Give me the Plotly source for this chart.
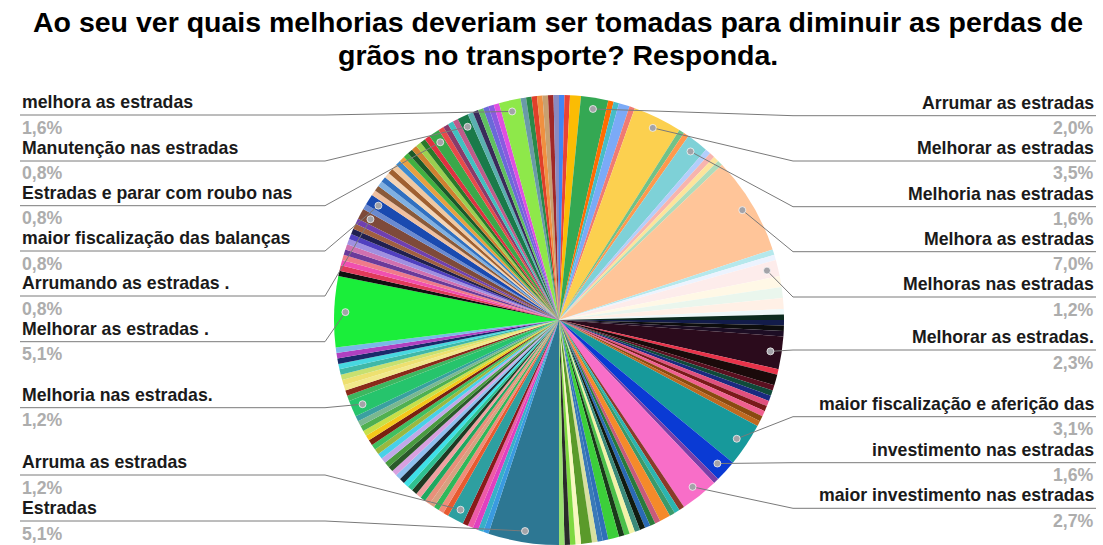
import math
import plotly.graph_objects as go

W, H = 1103, 545

titulo = [
    "Ao seu ver quais melhorias deveriam ser tomadas para diminuir as perdas de",
    "grãos no transporte? Responda.",
]

# Respostas na ordem em que aparecem (sentido horário a partir das 12h).
# "" = resposta sem rótulo no gráfico.
respostas = [
    "", "", "",
    "Arrumar as estradas",
    "", "", "", "",
    "Melhorar as estradas",
    "", "",
    "Melhoria nas estradas",
    "", "", "", "",
    "Melhora as estradas",
    "", "",
    "Melhoras nas estradas",
    "", "", "", "",
    "", "", "", "",
    "Melhorar as estradas.",
    "", "", "", "", "", "", "", "", "", "",
    "maior fiscalização e aferição das",
    "investimento nas estradas",
    "",
    "maior investimento nas estradas",
    "", "", "", "", "", "", "", "", "", "", "", "", "", "", "", "", "", "", "", "", "",
    "Estradas",
    "", "", "", "", "",
    "Arruma as estradas",
    "", "", "", "", "", "", "", "", "", "", "", "", "", "", "", "", "", "", "", "", "", "", "", "", "",
    "Melhoria nas estradas.",
    "", "", "", "", "", "", "", "", "", "",
    "Melhorar as estradas .",
    "", "", "", "", "", "", "", "", "", "", "",
    "Arrumando as estradas .",
    "",
    "maior fiscalização das balanças",
    "", "", "", "", "", "", "", "", "", "", "", "", "", "", "",
    "Estradas e parar com roubo nas",
    "", "", "", "",
    "Manutenção nas estradas",
    "", "", "", "", "", "",
    "melhora as estradas",
    "", "", "", "", "", "", "",
]

contagens = [
    1, 1, 2,
    5,
    1, 1, 2, 1,
    9,
    1, 1,
    4,
    1, 1, 1, 1,
    18,
    1, 1,
    3,
    2, 2, 2, 1,
    1, 1, 1, 1,
    6,
    1, 2, 1, 1, 1, 1, 1, 1, 1, 1,
    8,
    4,
    1,
    7,
    1, 1, 1, 2, 1, 1, 1, 1, 1, 1, 1, 1, 2, 1, 1, 1, 2, 1, 1, 1, 1,
    13,
    1, 1, 1, 1, 1,
    3,
    1, 1, 1, 1, 1, 1, 1, 1, 1, 1, 1, 1, 1, 1, 1, 1, 1, 1, 1, 1, 1, 1, 1, 1, 1,
    3,
    1, 1, 1, 1, 1, 1, 1, 1, 1, 1,
    13,
    1, 1, 1, 1, 1, 1, 1, 1, 1, 1, 1,
    2,
    1,
    2,
    1, 1, 1, 1, 1, 1, 1, 1, 1, 1, 1, 1, 1, 1, 1,
    2,
    1, 1, 1, 1,
    2,
    1, 1, 1, 1, 1, 1,
    4,
    1, 1, 1, 1, 1, 1, 1,
]

cores = [
    "#4285f4", "#ea4335", "#fbbc04",
    "#34a853",
    "#ff6d01", "#46bdc6", "#7baaf7", "#f07b72",
    "#fcd04f",
    "#71c287", "#ff994d",
    "#7ed1d7",
    "#b3cefb", "#f7b4ae", "#fde49b", "#aedcba",
    "#ffc599",
    "#b5e8ec", "#ecf3fe",
    "#fdeceb",
    "#fff8e6", "#eaf6ed", "#fff0e6", "#edf8f9",
    "#0b2a1e", "#131c4a", "#0d0d0d", "#1d0d24",
    "#2b0b1c",
    "#e8334a", "#1a0a0a", "#5a1020", "#0f4a3a", "#1a2a80", "#e0507e", "#7a1a1a", "#f06090", "#8a4a10", "#c06a20",
    "#17999b",
    "#0a3ad4",
    "#7a3fa8",
    "#f86ec8",
    "#8b3a2a", "#2bb5b0", "#3a9a6a", "#f58a2a", "#c85a7a", "#2a7a3a", "#2a6ab5", "#101a10", "#3a8a7a",
    "#f2f2a8", "#4cc04a", "#1a3a1a", "#3ccf3a", "#2f6fb8", "#3a7ab8", "#d8e0a0", "#5a9a2a", "#f8f8c0",
    "#7fd840", "#2a2a2a", "#9ae070",
    "#2d7793",
    "#3a9ae0", "#38b0c8", "#e040c0", "#ee5aa8", "#8a1a1a",
    "#2e9fa0",
    "#e85a30", "#f08c78", "#2fb85a", "#d8a080", "#e8907a", "#1fa860", "#f0a0a0", "#1f3a22", "#2fc090",
    "#3ee0e8", "#1a2a3a", "#8ec0f0", "#d8a0e0", "#2a5a2a", "#4a9a40", "#c0a8e8", "#48d0e8", "#9ab840",
    "#40c060", "#7a2010", "#f5c81a", "#c8e048", "#50b050", "#7ab890", "#3aa0a0",
    "#26c46c",
    "#3cb860", "#8a2a1a", "#f2e88a", "#eee070", "#c8e070", "#40b8a8", "#48d8e0", "#1a2a6a", "#b040c0", "#7ab8e8",
    "#1aee3a",
    "#101010", "#e03a5a", "#f050b0", "#f07a8a", "#6a3a9a", "#d070b0", "#a090e0", "#5040c0", "#202050",
    "#a06040", "#7040b0",
    "#7e4a3a",
    "#6a8ad0",
    "#1a4ab0",
    "#f0c0a0", "#8a5a3a", "#80b0e0", "#3070c0", "#f5d5b5", "#a06030", "#f0c8a0", "#3a8ad0", "#e8a040",
    "#40b040", "#1a5a2a", "#d08030", "#9ad050", "#2a7a2a", "#e03040",
    "#3aa84a",
    "#e84a4a", "#8a3a6a", "#40c0c0", "#c05a8a",
    "#1a7a4a",
    "#5ab0b0", "#3a2a5a", "#60c060", "#6a6ad8", "#8a5ae0", "#e050e0",
    "#8ee84a",
    "#6a9aa8", "#2a8a4a", "#e0402a", "#f09040", "#c8a070", "#a02828", "#8a8ac0",
]

# Geometria da pizza (em pixels)
CX, R = 559, 225
CY = H - R
R_PONTO = 0.95 * R

# Posições verticais (linha de sublinhado) dos rótulos, de cima para baixo
Y_DIREITA = [115.7, 161, 206.7, 251.7, 297, 350, 416.7, 462.7, 508.3]
Y_ESQUERDA = [115, 161, 205.7, 251, 296, 341.7, 407.7, 475, 521]
X_ESQ_TEXTO, X_ESQ_DOBRA = 20, 325
X_DIR_TEXTO, X_DIR_DOBRA = 1096, 793
Y_TITULO = [22, 55]

COR_LINHA = "#7a7a7a"
FONTE = "Liberation Sans, Arial, sans-serif"
TAM_ROTULO = 17.7


def px(x, y):
    return x / W, 1 - y / H


total = sum(contagens)
ids = [f"r{i:03d}" for i in range(len(contagens))]

fig = go.Figure(go.Pie(
    labels=ids,
    values=contagens,
    customdata=respostas,
    hovertemplate="%{customdata}<br>%{percent}<extra></extra>",
    marker=dict(colors=cores, line=dict(width=0)),
    sort=False,
    direction="clockwise",
    rotation=0,
    textinfo="none",
    showlegend=False,
    domain=dict(x=[(CX - R) / W, (CX + R) / W], y=[0, 2 * R / H]),
))

# Ângulo central de cada fatia rotulada
rotulados = []
acum = 0
for nome, v in zip(respostas, contagens):
    if nome:
        ang = 2 * math.pi * (acum + v / 2) / total
        rotulados.append((nome, v, ang))
    acum += v

direita = sorted([r for r in rotulados if r[2] <= math.pi], key=lambda r: r[2])
esquerda = sorted([r for r in rotulados if r[2] > math.pi], key=lambda r: -r[2])

shapes = []
annotations = []


def rotulo(nome, v, ang, y_ul, lado):
    xd = CX + R_PONTO * math.sin(ang)
    yd = CY - R_PONTO * math.cos(ang)
    if lado == "dir":
        xb, xt, anchor = X_DIR_DOBRA, X_DIR_TEXTO, "right"
    else:
        xb, xt, anchor = X_ESQ_DOBRA, X_ESQ_TEXTO, "left"
    p0, p1, p2 = px(xd, yd), px(xb, y_ul), px(xt, y_ul)
    shapes.append(dict(
        type="path", xref="paper", yref="paper",
        path=f"M {p0[0]},{p0[1]} L {p1[0]},{p1[1]} L {p2[0]},{p2[1]}",
        line=dict(color=COR_LINHA, width=1), layer="above",
    ))
    r = 3.5
    a, b = px(xd - r, yd - r), px(xd + r, yd + r)
    shapes.append(dict(
        type="circle", xref="paper", yref="paper",
        x0=a[0], y0=b[1], x1=b[0], y1=a[1],
        fillcolor="#a3a3a8", line=dict(color="rgba(255,255,255,0.7)", width=1), layer="above",
    ))
    pct = f"{100 * v / total:.1f}%".replace(".", ",")
    tx, ty = px(xt, y_ul - 13)
    annotations.append(dict(
        x=tx, y=ty, xref="paper", yref="paper", text=nome, showarrow=False,
        xanchor=anchor, yanchor="middle",
        font=dict(family=FONTE, size=TAM_ROTULO, color="#1a1a1a", weight="bold"),
    ))
    tx, ty = px(xt, y_ul + 12.5)
    annotations.append(dict(
        x=tx, y=ty, xref="paper", yref="paper", text=pct, showarrow=False,
        xanchor=anchor, yanchor="middle",
        font=dict(family=FONTE, size=TAM_ROTULO, color="#adadad", weight="bold"),
    ))


for (nome, v, ang), y in zip(direita, Y_DIREITA):
    rotulo(nome, v, ang, y, "dir")
for (nome, v, ang), y in zip(esquerda, Y_ESQUERDA):
    rotulo(nome, v, ang, y, "esq")

for linha, y in zip(titulo, Y_TITULO):
    tx, ty = px(558, y)
    annotations.append(dict(
        x=tx, y=ty, xref="paper", yref="paper", text=linha, showarrow=False,
        xanchor="center", yanchor="middle",
        font=dict(family=FONTE, size=28.5, color="#000000", weight="bold"),
    ))

fig.update_layout(
    width=W, height=H,
    margin=dict(l=0, r=0, t=0, b=0),
    paper_bgcolor="white",
    plot_bgcolor="white",
    showlegend=False,
    shapes=shapes,
    annotations=annotations,
)

fig.write_html("out.html")
